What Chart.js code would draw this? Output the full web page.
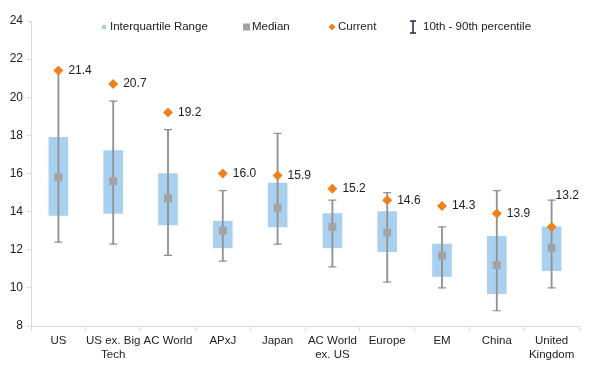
<!DOCTYPE html>
<html>
<head>
<meta charset="utf-8">
<script src="https://cdn.jsdelivr.net/npm/chart.js@4.4.0/dist/chart.umd.min.js"></script>
<style>
  html, body { margin: 0; padding: 0; background: #fff; }
  #wrap { width: 600px; height: 369px; }
</style>
</head>
<body>
<div id="wrap"><canvas id="myChart"></canvas></div>
<script>
// datos
const categories = ['US', ['US ex. Big', 'Tech'], 'AC World', 'APxJ', 'Japan', ['AC World', 'ex. US'], 'Europe', 'EM', 'China', ['United', 'Kingdom']];
const p10 = [12.4, 12.3, 11.7, 11.4, 12.3, 11.1, 10.3, 10.0, 8.8, 10.0];
const p90 = [21.4, 19.8, 18.3, 15.1, 18.1, 14.6, 15.0, 13.2, 15.1, 14.6];
const q1 = [13.8, 13.9, 13.3, 12.1, 13.2, 12.1, 11.9, 10.6, 9.7, 10.9];
const q3 = [17.9, 17.2, 16.0, 13.5, 15.5, 13.9, 14.0, 12.3, 12.7, 13.2];
const median = [15.8, 15.6, 14.7, 13.0, 14.2, 13.2, 12.9, 11.7, 11.2, 12.1];
const current = [21.4, 20.7, 19.2, 16.0, 15.9, 15.2, 14.6, 14.3, 13.9, 13.2];
const yTicks = [8, 10, 12, 14, 16, 18, 20, 22, 24];

const FONT = 'Liberation Sans, Arial, sans-serif';
const BLUE = '#a9d1ef';
const GREY = '#a3a3a3';
const WHISKER = '#929292';
const ORANGE = '#f0801e';

// Etiquetas de valor junto al rombo "Current"
const valueLabels = {
    id: 'valueLabels',
    afterDatasetsDraw(chart) {
        const meta = chart.getDatasetMeta(5);
        const ctx = chart.ctx;
        ctx.save();
        ctx.font = '12px ' + FONT;
        ctx.fillStyle = '#222';
        ctx.textBaseline = 'middle';
        meta.data.forEach((pt, i) => {
            let dx = 10, dy = 0;
            if (i === current.length - 1) { dx = 4; dy = -31; }
            ctx.fillText(current[i].toFixed(1), pt.x + dx, pt.y + dy);
        });
        ctx.restore();
    }
};

// Leyenda dibujada dentro del área del gráfico
const customLegend = {
    id: 'customLegend',
    afterDraw(chart) {
        const ctx = chart.ctx;
        const y = 27;
        ctx.save();
        ctx.font = '11.5px ' + FONT;
        ctx.fillStyle = '#222';
        ctx.textBaseline = 'middle';

        ctx.fillStyle = BLUE;
        ctx.fillRect(102, y - 2, 4, 4);
        ctx.fillStyle = '#222';
        ctx.fillText('Interquartile Range', 110, y);

        ctx.fillStyle = GREY;
        ctx.fillRect(243, y - 3.5, 7, 7);
        ctx.fillStyle = '#222';
        ctx.fillText('Median', 252, y);

        ctx.fillStyle = ORANGE;
        ctx.beginPath();
        ctx.moveTo(332, y - 3.5);
        ctx.lineTo(335.5, y);
        ctx.lineTo(332, y + 3.5);
        ctx.lineTo(328.5, y);
        ctx.closePath();
        ctx.fill();
        ctx.fillStyle = '#222';
        ctx.fillText('Current', 338, y);

        ctx.strokeStyle = '#1f2a55';
        ctx.lineWidth = 1.5;
        ctx.beginPath();
        ctx.moveTo(413, y - 6); ctx.lineTo(413, y + 6);
        ctx.moveTo(410, y - 6); ctx.lineTo(416, y - 6);
        ctx.moveTo(410, y + 6); ctx.lineTo(416, y + 6);
        ctx.stroke();
        ctx.fillText('10th - 90th percentile', 423, y);
        ctx.restore();
    }
};

window.onload = function() {
    const ctx = document.getElementById('myChart').getContext('2d');
    new Chart(ctx, {
        type: 'bar',
        data: {
            labels: categories,
            datasets: [
                {
                    label: 'Interquartile Range',
                    data: q1.map((v, i) => [v, q3[i]]),
                    backgroundColor: BLUE,
                    barThickness: 19,
                    grouped: false,
                    order: 6
                },
                {
                    label: '10th - 90th percentile',
                    data: p10.map((v, i) => [v, p90[i]]),
                    backgroundColor: WHISKER,
                    barThickness: 1.2,
                    grouped: false,
                    order: 5
                },
                {
                    type: 'line',
                    data: p10,
                    showLine: false,
                    pointStyle: 'line',
                    pointRadius: 4,
                    borderColor: WHISKER,
                    borderWidth: 1.2,
                    order: 4
                },
                {
                    type: 'line',
                    data: p90,
                    showLine: false,
                    pointStyle: 'line',
                    pointRadius: 4,
                    borderColor: WHISKER,
                    borderWidth: 1.2,
                    order: 3
                },
                {
                    type: 'line',
                    label: 'Median',
                    data: median,
                    showLine: false,
                    pointStyle: 'rect',
                    pointRadius: 5.6,
                    backgroundColor: GREY,
                    borderColor: GREY,
                    borderWidth: 0,
                    order: 2
                },
                {
                    type: 'line',
                    label: 'Current',
                    data: current,
                    showLine: false,
                    pointStyle: 'rectRot',
                    pointRadius: 5,
                    backgroundColor: ORANGE,
                    borderColor: ORANGE,
                    borderWidth: 0,
                    order: 1
                }
            ]
        },
        options: {
            responsive: true,
            maintainAspectRatio: false,
            animation: false,
            layout: { padding: { top: 21, right: 21, bottom: 0, left: 0 } },
            plugins: {
                legend: { display: false },
                tooltip: { enabled: false }
            },
            scales: {
                x: {
                    afterFit: (scale) => { scale.height = 43; },
                    grid: {
                        offset: true,
                        drawOnChartArea: false,
                        color: '#d9d9d9',
                        tickLength: 5
                    },
                    border: { color: '#d9d9d9' },
                    ticks: {
                        color: '#222',
                        font: { family: FONT, size: 11.5 },
                        maxRotation: 0,
                        autoSkip: false,
                        padding: 3
                    }
                },
                y: {
                    min: 8,
                    max: 24,
                    afterFit: (scale) => { scale.width = 31; },
                    afterBuildTicks: (scale) => { scale.ticks = yTicks.map(v => ({ value: v })); },
                    grid: {
                        drawOnChartArea: false,
                        color: '#d9d9d9',
                        tickLength: 4
                    },
                    border: { color: '#d9d9d9' },
                    ticks: {
                        color: '#222',
                        font: { family: FONT, size: 12 },
                        padding: 4
                    }
                }
            }
        },
        plugins: [valueLabels, customLegend]
    });
};
</script>
</body>
</html>
